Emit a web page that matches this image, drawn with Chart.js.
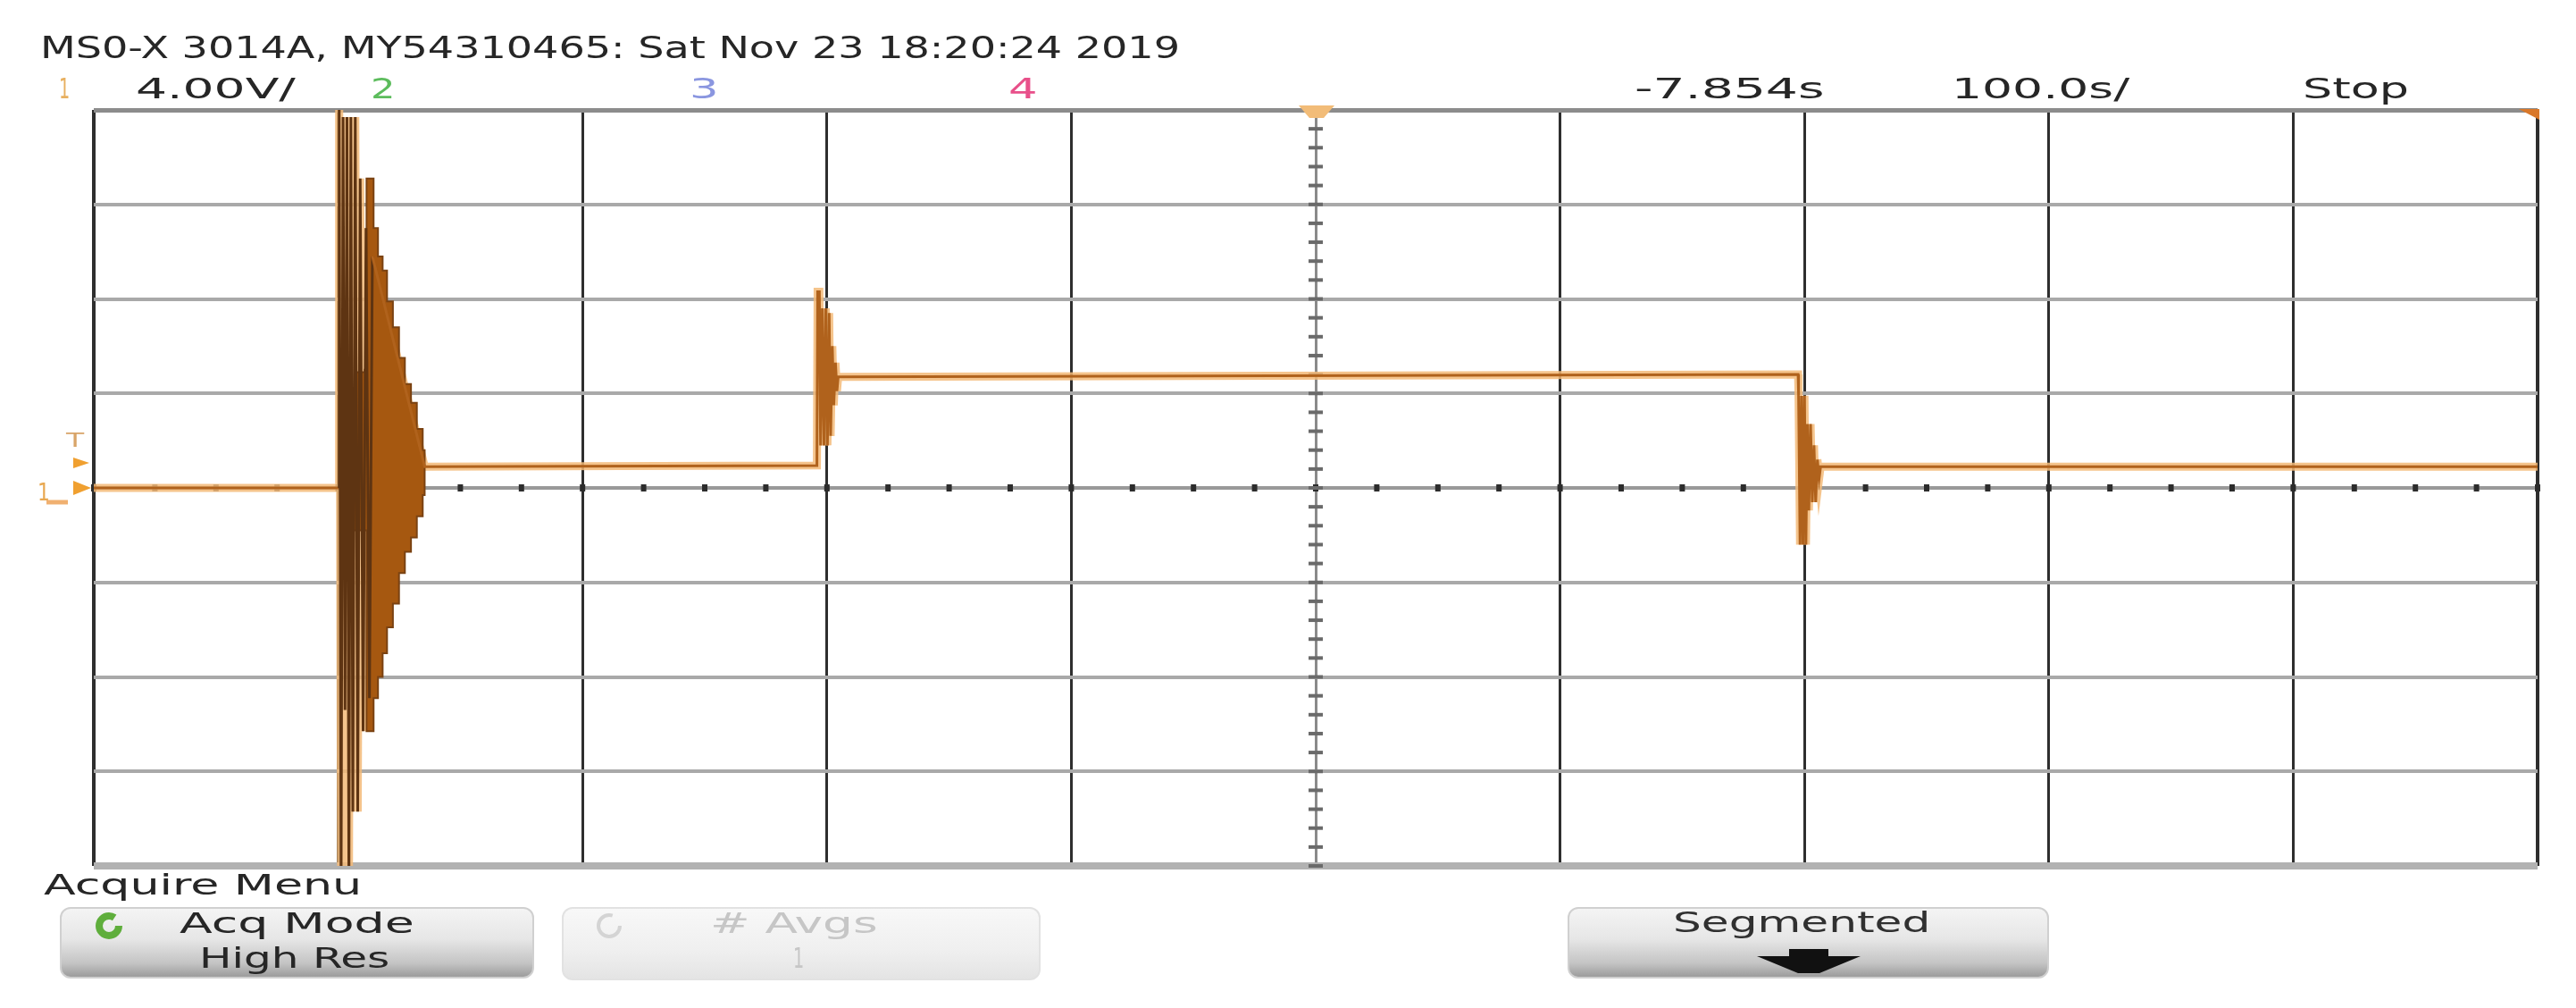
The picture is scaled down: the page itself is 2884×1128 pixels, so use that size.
<!DOCTYPE html>
<html>
<head>
<meta charset="utf-8">
<script src="https://cdn.jsdelivr.net/npm/chart.js@4.4.0/dist/chart.umd.min.js"></script>
<style>
body { margin:0; background:#fff; width:2884px; height:1128px; overflow:hidden; position:relative;
  font-family:"Liberation Sans Narrow","DejaVu Sans Condensed","Liberation Sans",sans-serif; }
#scope { position:absolute; left:0; top:0; }
.txt { position:absolute; white-space:nowrap; line-height:1; transform-origin:0 0; color:#262626; }
.btn { position:absolute; box-sizing:border-box; border-radius:12px; }
.on { background:linear-gradient(#f4f4f4 0%, #e6e6e6 45%, #c4c4c4 80%, #9c9c9c 100%); border:2px solid #d0d0d0; }
.off { background:linear-gradient(#f8f8f8 0%, #efefef 60%, #e4e4e4 100%); border:2px solid #e2e2e2; }
svg { position:absolute; }
</style>
</head>
<body>
<canvas id="scope" width="2884" height="1128"></canvas>

<!-- header -->
<div class="txt" data-l="45" data-r="1321" data-b="65" data-fs="34">MS0-X 3014A, MY54310465: Sat Nov 23 18:20:24 2019</div>
<div class="txt" data-l="66" data-r="78" data-b="110" data-fs="32" style="color:#e8b060">1</div>
<div class="txt" data-l="152" data-r="330" data-b="110" data-fs="32">4.00V/</div>
<div class="txt" data-l="415" data-r="442" data-b="110" data-fs="32" style="color:#5cbc5c">2</div>
<div class="txt" data-l="772" data-r="804" data-b="110" data-fs="32" style="color:#8a96e0">3</div>
<div class="txt" data-l="1129" data-r="1161" data-b="110" data-fs="32" style="color:#e8508a">4</div>
<div class="txt" data-l="1830" data-r="2043" data-b="110" data-fs="32">-7.854s</div>
<div class="txt" data-l="2185" data-r="2384" data-b="110" data-fs="32">100.0s/</div>
<div class="txt" data-l="2578" data-r="2696" data-b="110" data-fs="32">Stop</div>

<!-- left markers -->
<div class="txt" data-l="74" data-r="94" data-b="500" data-fs="22" style="color:#d8a468">T</div>
<div class="txt" data-l="42" data-r="56" data-b="560" data-fs="26" style="color:#e8a850">1</div>
<svg style="left:80px;top:510px" width="24" height="48">
  <polygon points="2,2 20,8 2,14" fill="#f0a030"/>
  <polygon points="2,28 22,36 2,44" fill="#f0a030"/>
</svg>
<svg style="left:50px;top:548px" width="34" height="24">
  <path d="M2,14 L26,14" stroke="#f0b070" stroke-width="5"/>
</svg>
<!-- trigger / time reference markers -->
<svg style="left:1452px;top:116px" width="44" height="20">
  <polygon points="2,2 42,2 30,16 14,16" fill="#f2bc78"/>
</svg>
<svg style="left:2818px;top:121px" width="26" height="14">
  <polygon points="2,1 25,1 25,13" fill="#d9782a"/>
</svg>

<!-- bottom menu -->
<div class="txt" data-l="49" data-r="406" data-b="1001" data-fs="32">Acquire Menu</div>
<div class="btn on" style="left:67px;top:1015px;width:531px;height:80px"></div>
<div class="btn off" style="left:629px;top:1015px;width:536px;height:82px"></div>
<div class="btn on" style="left:1755px;top:1015px;width:539px;height:80px"></div>
<svg style="left:84px;top:1018px" width="80" height="36">
  <circle cx="38" cy="18" r="11" fill="none" stroke="#5fae3c" stroke-width="8" stroke-dasharray="58 12"/>
</svg>
<svg style="left:652px;top:1020px" width="66" height="34">
  <circle cx="30" cy="16" r="12" fill="none" stroke="#d4d4d4" stroke-width="4" stroke-dasharray="60 16"/>
</svg>
<div class="txt" data-l="201" data-r="464" data-b="1044" data-fs="32">Acq Mode</div>
<div class="txt" data-l="223" data-r="437" data-b="1083" data-fs="32">High Res</div>
<div class="txt" data-l="795" data-r="982" data-b="1044" data-fs="32" style="color:#c6c6c6"># Avgs</div>
<div class="txt" data-l="888" data-r="900" data-b="1083" data-fs="32" style="color:#c6c6c6">1</div>
<div class="txt" data-l="1873" data-r="2162" data-b="1043" data-fs="32" style="color:#303030">Segmented</div>
<svg style="left:1963px;top:1062px" width="124" height="28">
  <polygon points="4,8 40,8 40,0 84,0 84,8 120,8 74,27 50,27" fill="#111"/>
</svg>

<script>
// channel 1 trace, time in s from screen centre, volts
const traceTime = [-500, -399.8,
  -399.6, -398.8, -398.0, -397.2, -396.4, -395.6, -394.8, -394.0, -393.0, -392.0, -391.0, -389.8, -388.6, -387.2, -386.0,
  -364.6, -204.1,
  -203.8, -203.1, -202.6, -201.9, -201.2, -200.5, -199.8, -199.1, -198.5, -197.8, -197.2, -196.5, -195.9, -195.4,
  197.4,
  197.6, 198.2, 198.8, 199.4, 200.0, 200.6, 201.2, 201.8, 202.5, 203.2, 203.9, 204.6, 205.3, 206.0, 206.6,
  500];
const traceVolts = [0, 0,
  17, -17, 15.7, -9.4, 15.7, -17, 15.7, -13.7, 15.7, -13.7, 13.1, -10.3, 11.0, -8.9, 9.8,
  0.9, 0.95,
  8.3, 8.3, 1.8, 7.6, 1.8, 7.6, 1.8, 7.4, 2.2, 6.0, 3.5, 5.3, 4.1, 4.7,
  4.8,
  3.9, -2.4, 3.9, -2.4, 3.9, -2.4, 2.7, -0.95, 2.7, -0.6, 1.8, -0.6, 1.2, 0.4, 0.9,
  0.9];

// decaying ring after the first edge (envelope)
const burstTime  = [-393.4, -389.2, -388.4, -385.5, -383.7, -381.8, -380.0, -377.6, -375.1, -372.7, -370.2, -367.8, -365.4, -364.6];
const burstUpper = [4.9, 5.0, 13.1, 11.0, 9.8, 9.2, 7.9, 6.8, 5.5, 4.4, 3.6, 2.5, 1.6, 0.9];
const burstLower = [-1.8, -1.8, -10.3, -8.9, -8.0, -7.0, -5.9, -4.9, -3.6, -2.7, -2.1, -1.2, -0.3, 0.9];

const timeDiv = 100;   // s/div
const voltDiv = 4;     // V/div

function pts(xs, ys) { return xs.map((x, i) => ({x: x, y: ys[i]})); }

// small dashes on the centre axes
const centreTicks = {
  id: 'centreTicks',
  beforeDatasetsDraw(chart) {
    const {ctx, scales: {x, y}} = chart;
    const y0 = y.getPixelForValue(0), x0 = x.getPixelForValue(0);
    ctx.save();
    ctx.fillStyle = '#2c2c2c';
    for (let t = x.min; t <= x.max; t += timeDiv / 4) {
      const px = x.getPixelForValue(t);
      ctx.fillRect(px - 3, y0 - 4, 6, 8);
    }
    ctx.fillStyle = '#6a6a6a';
    for (let v = y.min; v <= y.max + 0.01; v += voltDiv / 5) {
      const py = y.getPixelForValue(v);
      ctx.fillRect(x0 - 8, py - 2, 16, 4);
    }
    ctx.restore();
  }
};

new Chart('scope', {
  type: 'scatter',
  data: {
    datasets: [{
      data: pts(traceTime, traceVolts),
      showLine: true,
      borderColor: '#b0621c',
      borderWidth: 3,
      pointRadius: 0,
      order: 0,
      segment: {
        borderColor: c => (c.p0.parsed.x >= -399.8 && c.p1.parsed.x <= -386) ? '#5e3412' : undefined
      }
    }, {
      data: pts(burstTime, burstUpper),
      showLine: true,
      borderColor: '#7a4212',
      borderWidth: 2,
      pointRadius: 0,
      stepped: 'before',
      order: 1
    }, {
      data: pts(burstTime, burstLower),
      showLine: true,
      borderColor: '#7a4212',
      borderWidth: 2,
      pointRadius: 0,
      stepped: 'before',
      fill: '-1',
      backgroundColor: '#a65810',
      order: 1
    }, {
      // light glow under the trace
      data: pts(traceTime, traceVolts),
      showLine: true,
      borderColor: 'rgba(243,186,120,0.85)',
      borderWidth: 9,
      pointRadius: 0,
      order: 3
    }]
  },
  options: {
    responsive: false,
    animation: false,
    layout: { padding: { left: 105, right: 43, top: 123, bottom: 159 } },
    plugins: { legend: { display: false }, tooltip: { enabled: false } },
    scales: {
      x: {
        type: 'linear', min: -500, max: 500,
        ticks: { display: false, stepSize: timeDiv },
        border: { display: false },
        grid: {
          drawTicks: false,
          color: c => c.tick.value === 0 ? '#8a8a8a' : '#2e2e2e',
          lineWidth: c => (c.tick.value === -500 || c.tick.value === 500) ? 4 : 3
        }
      },
      y: {
        min: -16, max: 16,
        ticks: { display: false, stepSize: voltDiv },
        border: { display: false },
        grid: {
          drawTicks: false,
          color: c => c.tick.value === 16 ? '#8c8c8c' : (c.tick.value === -16 ? '#b2b2b2' : (c.tick.value === 0 ? '#999' : '#a9a9a9')),
          lineWidth: c => c.tick.value === -16 ? 8 : (c.tick.value === 16 ? 5 : 4)
        }
      }
    }
  },
  plugins: [centreTicks]
});

// place texts: left/right edge and baseline
document.querySelectorAll('.txt').forEach(el => {
  const fs = +el.dataset.fs;
  el.style.fontSize = fs + 'px';
  const probe = document.createElement('span');
  probe.style.cssText = 'display:inline-block;width:0;height:0';
  el.appendChild(probe);
  const base = probe.offsetTop;
  el.style.left = el.dataset.l + 'px';
  el.style.top = (el.dataset.b - base) + 'px';
  const w = el.offsetWidth;
  el.style.transform = 'scaleX(' + ((el.dataset.r - el.dataset.l) / w) + ')';
});
</script>
</body>
</html>
